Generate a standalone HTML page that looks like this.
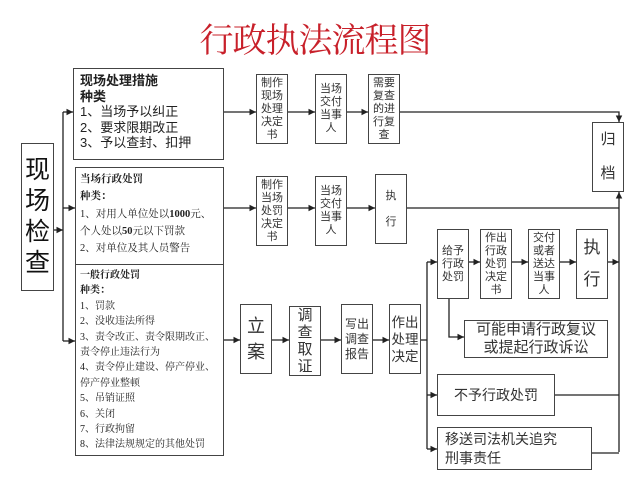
<!DOCTYPE html>
<html><head><meta charset="utf-8"><style>
body{margin:0;width:640px;height:480px;background:#fff;position:relative;overflow:hidden;font-family:"Liberation Sans","Noto Sans CJK SC",sans-serif;color:#222}
.b{position:absolute;border:1.5px solid #444;box-sizing:border-box;background:#fff}
.v{display:flex;align-items:center;justify-content:center;text-align:center;font-size:11px;line-height:13px;color:#333}
.t{position:absolute;left:4px;top:2px;white-space:nowrap;font-family:"Liberation Serif","Noto Serif CJK SC",serif;color:#222}
</style></head><body>
<div style="position:absolute;left:190px;top:20px;width:250px;text-align:center;font-size:34px;line-height:44px;color:#c8202a;font-family:'Liberation Serif','Noto Serif CJK SC',serif;letter-spacing:-1px">行政执法流程图</div>
<svg width="640" height="480" style="position:absolute;left:0;top:0">
<defs><marker id="a" markerWidth="6" markerHeight="6" refX="5" refY="3" orient="auto"><path d="M0,0.5 L5,3 L0,5.5z" fill="#222"/></marker></defs>
<g stroke="#222" stroke-width="1.3" fill="none">
<path d="M53,230 H63" marker-end="url(#a)"/>
<path d="M63,112 V341"/>
<path d="M63,112 H73" marker-end="url(#a)"/>
<path d="M63,208 H75" marker-end="url(#a)"/>
<path d="M63,341 H75" marker-end="url(#a)"/>
<path d="M224,112 H256" marker-end="url(#a)"/>
<path d="M288,112 H315" marker-end="url(#a)"/>
<path d="M347,112 H368" marker-end="url(#a)"/>
<path d="M400,112 H619 V122" marker-end="url(#a)"/>
<path d="M224,208 H256" marker-end="url(#a)"/>
<path d="M288,208 H315" marker-end="url(#a)"/>
<path d="M347,208 H375" marker-end="url(#a)"/>
<path d="M405,208 H619"/>
<path d="M619,452 V192" marker-end="url(#a)"/>
<path d="M224,340 H240" marker-end="url(#a)"/>
<path d="M272,340 H289" marker-end="url(#a)"/>
<path d="M321,340 H341" marker-end="url(#a)"/>
<path d="M373,340 H389" marker-end="url(#a)"/>
<path d="M421,340 H427"/>
<path d="M427,262 V449"/>
<path d="M427,262 H437" marker-end="url(#a)"/>
<path d="M427,395 H437" marker-end="url(#a)"/>
<path d="M427,449 H437" marker-end="url(#a)"/>
<path d="M469,262 H480" marker-end="url(#a)"/>
<path d="M512,262 H528" marker-end="url(#a)"/>
<path d="M560,262 H576" marker-end="url(#a)"/>
<path d="M608,262 H619" marker-end="url(#a)"/>
<path d="M449,298 V337 H464" marker-end="url(#a)"/>
<path d="M555,395 H619"/>
<path d="M592,453 H619"/>
</g></svg>
<div class="b v" style="left:21px;top:143px;width:33px;height:148px;font-size:25px;line-height:31px;color:#111">现<br>场<br>检<br>查</div>
<div class="b" style="left:73px;top:68px;width:151px;height:92px"><div class="t" style="font-size:13px;line-height:15.5px;top:4px;left:6px;font-family:'Liberation Sans','Noto Sans CJK SC',sans-serif"><b>现场处理措施<br>种类</b><br>1、当场予以纠正<br>2、要求限期改正<br>3、予以查封、扣押</div></div>
<div class="b" style="left:75px;top:167px;width:149px;height:98px"><div class="t" style="font-size:10.5px;line-height:17.3px;top:3px"><b>当场行政处罚</b><br><b>种类：</b><br>1、对用人单位处以<b>1000</b>元、<br>个人处以<b>50</b>元以下罚款<br>2、对单位及其人员警告</div></div>
<div class="b" style="left:75px;top:264px;width:149px;height:192px"><div class="t" style="font-size:10px;line-height:15.4px;top:3px"><b>一般行政处罚</b><br><b>种类：</b><br>1、罚款<br>2、没收违法所得<br>3、责令改正、责令限期改正、<br>责令停止违法行为<br>4、责令停止建设、停产停业、<br>停产停业整顿<br>5、吊销证照<br>6、关闭<br>7、行政拘留<br>8、法律法规规定的其他处罚</div></div>
<div class="b v" style="left:256px;top:74px;width:32px;height:70px">制作<br>现场<br>处理<br>决定<br>书</div>
<div class="b v" style="left:315px;top:74px;width:32px;height:70px">当场<br>交付<br>当事<br>人</div>
<div class="b v" style="left:368px;top:74px;width:32px;height:70px">需要<br>复查<br>的进<br>行复<br>查</div>
<div class="b v" style="left:592px;top:122px;width:32px;height:70px;font-size:15px;line-height:34px">归<br>档</div>
<div class="b v" style="left:256px;top:176px;width:32px;height:70px">制作<br>当场<br>处罚<br>决定<br>书</div>
<div class="b v" style="left:315px;top:176px;width:32px;height:70px">当场<br>交付<br>当事<br>人</div>
<div class="b v" style="left:375px;top:174px;width:32px;height:70px;line-height:26px">执<br>行</div>
<div class="b v" style="left:437px;top:229px;width:32px;height:70px">给予<br>行政<br>处罚</div>
<div class="b v" style="left:480px;top:229px;width:32px;height:70px">作出<br>行政<br>处罚<br>决定<br>书</div>
<div class="b v" style="left:528px;top:229px;width:32px;height:70px">交付<br>或者<br>送达<br>当事<br>人</div>
<div class="b v" style="left:576px;top:229px;width:32px;height:70px;font-size:17px;line-height:32px">执<br>行</div>
<div class="b v" style="left:240px;top:304px;width:32px;height:70px;font-size:18px;line-height:26px">立<br>案</div>
<div class="b v" style="left:289px;top:306px;width:32px;height:70px;font-size:15px;line-height:17px">调<br>查<br>取<br>证</div>
<div class="b v" style="left:341px;top:304px;width:32px;height:70px;font-size:12px;line-height:15px">写出<br>调查<br>报告</div>
<div class="b v" style="left:389px;top:304px;width:32px;height:70px;font-size:13.5px;line-height:17px">作出<br>处理<br>决定</div>
<div class="b v" style="left:464px;top:320px;width:144px;height:38px;font-size:15px;line-height:18px">可能申请行政复议<br>或提起行政诉讼</div>
<div class="b v" style="left:437px;top:374px;width:118px;height:42px;font-size:14px">不予行政处罚</div>
<div class="b" style="left:437px;top:427px;width:155px;height:43px;font-size:14px;line-height:19px;padding:2px 0 0 7px;color:#333">移送司法机关追究<br>刑事责任</div>
</body></html>
